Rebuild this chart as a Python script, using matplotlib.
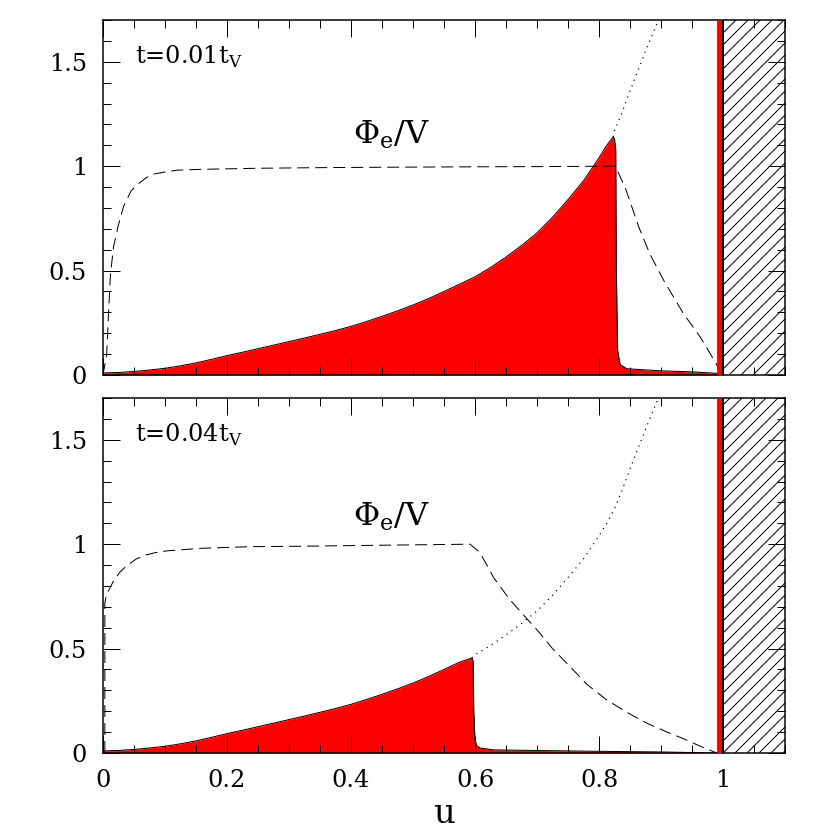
import matplotlib
matplotlib.use("Agg")
import matplotlib.pyplot as plt
from matplotlib.ticker import MultipleLocator, FuncFormatter

# envelope (dotted) curve, shared by both panels
env_u = [0.0, 0.025, 0.05, 0.075, 0.1, 0.125, 0.15, 0.175, 0.2, 0.225, 0.25,
         0.275, 0.3, 0.325, 0.35, 0.375, 0.4, 0.425, 0.45, 0.475, 0.5, 0.525,
         0.55, 0.575, 0.6, 0.625, 0.65, 0.675, 0.7, 0.725, 0.75, 0.775, 0.8,
         0.8125, 0.825, 0.8375, 0.85, 0.8625, 0.875, 0.8875, 0.9]
env_y = [0.01, 0.012, 0.017, 0.024, 0.032, 0.044, 0.058, 0.075, 0.093, 0.109,
         0.126, 0.143, 0.16, 0.177, 0.195, 0.213, 0.233, 0.256, 0.281, 0.307,
         0.335, 0.366, 0.40, 0.435, 0.47, 0.515, 0.565, 0.62, 0.68, 0.755,
         0.84, 0.93, 1.04, 1.10, 1.17, 1.26, 1.36, 1.455, 1.55, 1.64, 1.73]

# t = 0.01 t_V : density peak and tail
peak_top = (0.823, 1.14)
tail_top_u = [0.825, 0.827, 0.828, 0.830, 0.834, 0.845, 0.9, 0.95, 0.99, 0.993]
tail_top_y = [1.13, 1.08, 0.5, 0.12, 0.05, 0.03, 0.02, 0.015, 0.008, 0.0]

# t = 0.04 t_V
peak_bot = (0.595, 0.455)
tail_bot_u = [0.597, 0.598, 0.600, 0.603, 0.608, 0.63, 0.7, 0.8, 0.9, 0.99]
tail_bot_y = [0.44, 0.2, 0.06, 0.035, 0.024, 0.015, 0.012, 0.008, 0.005, 0.0]

# Phi_e / V (dashed)
phi_top_u = [0.0, 0.006, 0.009, 0.012, 0.017, 0.025, 0.033, 0.045, 0.054, 0.07,
             0.081, 0.1, 0.12, 0.16, 0.25, 0.35, 0.46, 0.6, 0.7, 0.826, 0.842,
             0.864, 0.882, 0.904, 0.936, 0.963, 0.99, 0.995]
phi_top_y = [0.0, 0.1, 0.3, 0.48, 0.614, 0.72, 0.806, 0.88, 0.909, 0.945,
             0.962, 0.972, 0.981, 0.985, 0.99, 0.993, 0.995, 0.997, 0.998, 1.0, 0.90,
             0.71, 0.58, 0.455, 0.295, 0.183, 0.05, 0.0]
phi_bot_u = [0.003, 0.003, 0.006, 0.017, 0.027, 0.038, 0.053, 0.07, 0.085, 0.103,
             0.156, 0.237, 0.318, 0.45, 0.592, 0.608, 0.63, 0.656, 0.68, 0.70,
             0.725, 0.753, 0.78, 0.812, 0.845, 0.877, 0.91, 0.941, 0.965, 0.99]
phi_bot_y = [0.0, 0.72, 0.76, 0.824, 0.865, 0.896, 0.928, 0.949, 0.96, 0.968,
             0.98, 0.988, 0.99, 0.995, 1.0, 0.96, 0.84, 0.735, 0.655, 0.59,
             0.50, 0.415, 0.33, 0.255, 0.195, 0.143, 0.10, 0.0625, 0.03, 0.0]

labels = ["t=0.01t$_{\\rm V}$", "t=0.04t$_{\\rm V}$"]

plt.rcParams['font.family'] = ['DejaVu Serif']
plt.rcParams['mathtext.fontset'] = 'custom'
plt.rcParams['mathtext.rm'] = 'DejaVu Serif'
plt.rcParams['hatch.linewidth'] = 1.0

W = 830
fig = plt.figure(figsize=(W / 72, W / 72), dpi=72)
ax_top = fig.add_axes([103 / W, 455 / W, 682 / W, 355 / W])
ax_bot = fig.add_axes([103 / W, 77 / W, 682 / W, 355 / W])


def panel(ax, peak, tail_u, tail_y, phi_u, phi_y, label, phi_xy):
    # red density profile: envelope up to the peak, then the drop
    ru = [u for u in env_u if u < peak[0]] + [peak[0]] + tail_u
    ry = [y for u, y in zip(env_u, env_y) if u < peak[0]] + [peak[1]] + tail_y
    ax.fill_between(ru, 0, ry, color='#ff0000', lw=0, zorder=1)
    ax.plot(ru, ry, color='black', lw=1, zorder=2)

    du = [peak[0]] + [u for u in env_u if u > peak[0]]
    dy = [peak[1]] + [y for u, y in zip(env_u, env_y) if u > peak[0]]
    ax.plot(du, dy, color='black', lw=1.2, ls=(0, (1, 4)), zorder=3)

    ax.plot(phi_u, phi_y, color='black', lw=1, ls=(0, (12, 6)), zorder=3)

    ax.axvspan(0.991, 1.0, facecolor='#ff0000', edgecolor='#444444', lw=0.8, zorder=4)
    ax.axvline(1.0, color='black', lw=2, zorder=5)
    ax.axvspan(1.0, 1.1, facecolor='none', edgecolor='black', hatch='//', lw=0, zorder=4)

    ax.text(0.052, 1.49, label, fontsize=24)
    ax.text(phi_xy[0], phi_xy[1], "Φ$_{\\rm e}$/V", fontsize=32)

    ax.set_xlim(0, 1.1)
    ax.set_ylim(0, 1.7)
    ax.xaxis.set_major_locator(MultipleLocator(0.2))
    ax.xaxis.set_minor_locator(MultipleLocator(0.05))
    ax.yaxis.set_major_locator(MultipleLocator(0.5))
    ax.yaxis.set_minor_locator(MultipleLocator(0.1))
    fmt = FuncFormatter(lambda v, p: '%g' % round(v, 3))
    ax.xaxis.set_major_formatter(fmt)
    ax.yaxis.set_major_formatter(fmt)
    ax.tick_params(which='both', direction='in', top=True, right=True,
                   width=1, labelsize=24, pad=16)
    ax.tick_params(which='major', length=17)
    ax.tick_params(which='minor', length=8)
    for s in ax.spines.values():
        s.set_linewidth(1.5)


panel(ax_top, peak_top, tail_top_u, tail_top_y, phi_top_u, phi_top_y,
      labels[0], (0.403, 1.11))
panel(ax_bot, peak_bot, tail_bot_u, tail_bot_y, phi_bot_u, phi_bot_y,
      labels[1], (0.403, 1.087))

ax_top.tick_params(labelbottom=False)
ax_bot.set_xlabel('u', fontsize=34, labelpad=6)

fig.savefig('out.png', dpi=72)
